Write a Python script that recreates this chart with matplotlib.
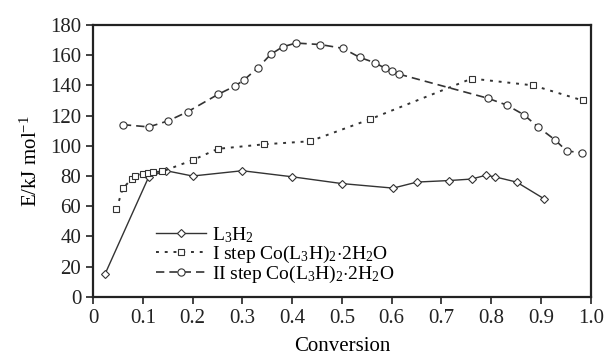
import matplotlib
matplotlib.use("Agg")
import matplotlib.pyplot as plt

plt.rcParams['font.family'] = ['Liberation Serif', 'DejaVu Serif']
plt.rcParams['mathtext.fontset'] = 'custom'
plt.rcParams['mathtext.rm'] = 'Liberation Serif'
plt.rcParams['mathtext.it'] = 'Liberation Serif:italic'

# L3H2
x1 = [0.024, 0.112, 0.147, 0.20, 0.30, 0.40, 0.50, 0.603, 0.651, 0.715, 0.761, 0.789, 0.807, 0.851, 0.906]
y1 = [15, 79.5, 83.5, 80, 83.5, 79.5, 75, 72, 76, 77, 78, 80.5, 79.5, 76, 65]

# I step
x2 = [0.047, 0.06, 0.078, 0.085, 0.10, 0.11, 0.12, 0.139, 0.20, 0.251, 0.344, 0.436, 0.556, 0.761, 0.884, 0.984]
y2 = [58, 72, 78, 80, 81.5, 82, 82.5, 83, 90.5, 98, 101, 103, 117.5, 144.5, 140, 130]

# II step
x3 = [0.06, 0.112, 0.151, 0.19, 0.251, 0.285, 0.303, 0.331, 0.357, 0.381, 0.408, 0.457, 0.502,
      0.536, 0.566, 0.586, 0.600, 0.614, 0.793, 0.831, 0.866, 0.894, 0.928, 0.952, 0.982]
y3 = [114, 112.5, 116.5, 122.5, 134, 139.5, 143.5, 151.5, 160.5, 165.5, 168, 167, 164.5,
      158.5, 155, 151.5, 149.5, 147.5, 131.5, 127, 120.5, 112.5, 104, 96.5, 95.5]

labels = [r'L$_3$H$_2$', r'I step Co(L$_3$H)$_2$$\cdot$2H$_2$O', r'II step Co(L$_3$H)$_2$$\cdot$2H$_2$O']
xticks = [0, 0.1, 0.2, 0.3, 0.4, 0.5, 0.6, 0.7, 0.8, 0.9, 1.0]
xticklabels = ['0', '0.1', '0.2', '0.3', '0.4', '0.5', '0.6', '0.7', '0.8', '0.9', '1.0']
yticks = list(range(0, 181, 20))

fig = plt.figure(figsize=(6.04, 3.56), dpi=100)
ax = fig.add_axes([0.154, 0.166, 0.824, 0.764])
c = '#333333'
ax.plot(x1, y1, '-', color=c, lw=1.0, marker='D', ms=3.8, mfc='white', mec=c, mew=0.8, label=labels[0])
ax.plot(x2, y2, linestyle=(0, (1.5, 3)), color=c, lw=1.4, marker='s', ms=4.8, mfc='white', mec=c, mew=0.8, label=labels[1])
ax.plot(x3, y3, linestyle=(0, (5, 3)), color=c, lw=1.2, marker='o', ms=5.2, mfc='white', mec=c, mew=0.8, label=labels[2])

ax.set_xlim(0, 1.0)
ax.set_ylim(0, 180)
ax.set_xticks(xticks)
ax.set_xticklabels(xticklabels)
ax.set_yticks(yticks)
ax.tick_params(direction='out', length=5, width=1.2, labelsize=15, colors='#222222')
ax.tick_params(axis='x', pad=4)
for s in ax.spines.values():
    s.set_linewidth(1.6)
    s.set_color('#222222')
ax.set_xlabel('Conversion', fontsize=15, labelpad=6)
ax.set_ylabel(r'E/kJ mol$^{-1}$', fontsize=15, labelpad=6)

leg = ax.legend(loc='lower left', bbox_to_anchor=(0.11, 0.015), frameon=False, fontsize=14,
                handlelength=2.6, handletextpad=0.3, labelspacing=-0.05, borderaxespad=0)

fig.savefig('out.png', dpi=100)
